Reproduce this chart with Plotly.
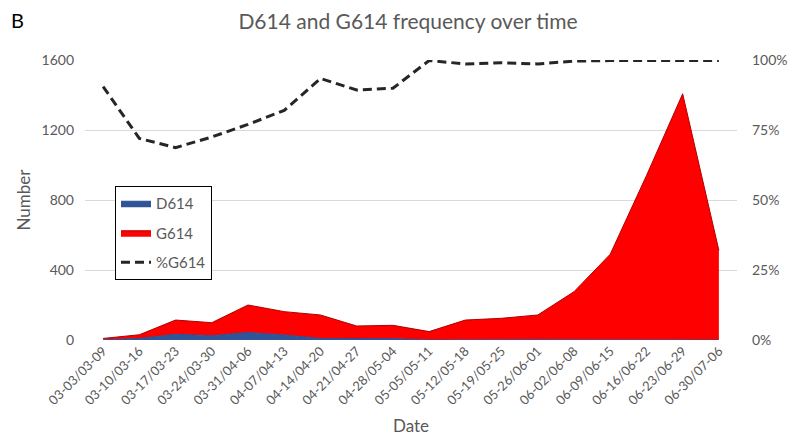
import plotly.graph_objects as go

weeks = ["03-03/03-09", "03-10/03-16", "03-17/03-23", "03-24/03-30", "03-31/04-06",
         "04-07/04-13", "04-14/04-20", "04-21/04-27", "04-28/05-04", "05-05/05-11",
         "05-12/05-18", "05-19/05-25", "05-26/06-01", "06-02/06-08", "06-09/06-15",
         "06-16/06-22", "06-23/06-29", "06-30/07-06"]
d614 = [1, 9, 33, 25, 43, 29, 9, 9, 8, 0, 2, 1, 2, 1, 1, 1, 1, 0]
g614 = [8, 21, 81, 74, 157, 133, 134, 71, 76, 48, 112, 123, 141, 275, 489, 938, 1406, 512]
pct_g614 = [0.905, 0.72, 0.687, 0.725, 0.77, 0.82, 0.934, 0.893, 0.899, 0.998, 0.986,
            0.99, 0.986, 0.996, 0.998, 0.998, 0.998, 0.998]
left_ticks = [0, 400, 800, 1200, 1600]
right_ticks = [0, 0.25, 0.5, 0.75, 1.0]

FONT = "Lato"
GREY = "#595959"
W, H = 792, 437  # page adds an 8px body margin

fig = go.Figure()
fig.add_trace(go.Scatter(
    x=weeks, y=d614, name="D614", mode="lines", stackgroup="one",
    line=dict(color="#2A4F8F", width=1), fillcolor="#2F5597", legendgroup="a"))
fig.add_trace(go.Scatter(
    x=weeks, y=g614, name="G614", mode="lines", stackgroup="one",
    line=dict(color="#B00000", width=1), fillcolor="#FF0000", legendgroup="b"))
fig.add_trace(go.Scatter(
    x=weeks, y=pct_g614, name="%G614", mode="lines", yaxis="y2",
    line=dict(color="#262626", width=3, dash="9px,5px"), legendgroup="c"))

fig.update_layout(
    width=W, height=H,
    margin=dict(l=77, r=63, t=52, b=105),
    paper_bgcolor="white", plot_bgcolor="white",
    font=dict(family=FONT, color=GREY, size=14),
    title=dict(text="D614 and G614 frequency over time", x=0.5 + 4 / W, xref="container",
               y=1 - 14 / H, yref="container", yanchor="middle", xanchor="center",
               font=dict(family=FONT, size=21, color=GREY)),
    xaxis=dict(type="category", range=[-0.5, 17.5], tickangle=-45, showgrid=False,
               showline=False, ticks="", tickfont=dict(size=13, color=GREY),
               title=dict(text="Date", font=dict(size=17, color=GREY), standoff=13)),
    yaxis=dict(range=[0, 1600], tickvals=left_ticks, showgrid=True, gridcolor="#D9D9D9",
               gridwidth=1, zeroline=False, showline=False, ticks="",
               ticklabelstandoff=10, tickfont=dict(size=14, color=GREY),
               title=dict(text="Number", font=dict(size=17, color=GREY), standoff=6)),
    yaxis2=dict(range=[0, 1.0], tickvals=right_ticks, tickformat=".0%", overlaying="y",
                side="right", showgrid=False, zeroline=False, showline=False, ticks="",
                ticklabelstandoff=14, tickfont=dict(size=14, color=GREY)),
    legend=dict(x=0.046, y=0.55, xanchor="left", yanchor="top", traceorder="grouped",
                bordercolor="black", borderwidth=1, bgcolor="white",
                font=dict(size=15, color=GREY), tracegroupgap=7),
    showlegend=True,
    annotations=[dict(text="B", xref="paper", yref="paper", x=(1 - 77) / 652,
                      y=(332 - 12) / 280, xanchor="left", yanchor="middle",
                      showarrow=False, font=dict(family=FONT, size=20, color="black"))],
)

fig.write_html("out.html")
